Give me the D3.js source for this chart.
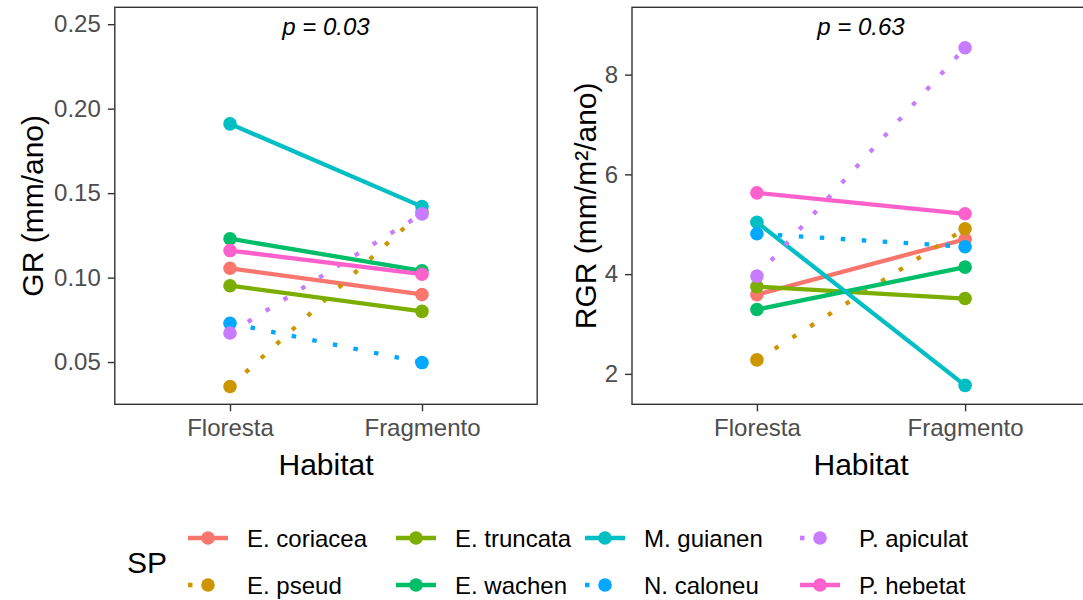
<!DOCTYPE html>
<html>
<head>
<meta charset="utf-8">
<script src="https://cdn.jsdelivr.net/npm/d3@7"></script>
<style>
  body { margin: 0; background: #fff; }
  svg { display: block; font-family: 'Liberation Sans', Arial, sans-serif; }
</style>
</head>
<body>
<div class="chart"></div>
<script>
// especies (ordem do fator SP)
const species = [
  'E. coriacea',
  'E. pseud',
  'E. truncata',
  'E. wachen',
  'M. guianen',
  'N. caloneu',
  'P. apiculat',
  'P. hebetat'
]
const habitats = ['Floresta', 'Fragmento']

// GR (mm/ano)
const grFloresta = [0.1055, 0.0355, 0.0952, 0.123, 0.191, 0.073, 0.0672, 0.116]
const grFragmento = [0.09, 0.139, 0.08, 0.104, 0.142, 0.0497, 0.1377, 0.102]

// RGR (mm/m2/ano)
const rgrFloresta = [3.59, 2.28, 3.75, 3.29, 5.04, 4.81, 3.96, 5.63]
const rgrFragmento = [4.7, 4.91, 3.51, 4.14, 1.77, 4.55, 8.54, 5.21]

const grTicks = [0.05, 0.1, 0.15, 0.2, 0.25]
const rgrTicks = [2, 4, 6, 8]
const pLabels = ['p = 0.03', 'p = 0.63']

const dotted = ['E. pseud', 'N. caloneu', 'P. apiculat']

;(function init() {
  const width = 1083
  const height = 600
  const top = 7.3
  const bottom = 404.3
  const lineWidth = 4.3
  const radius = 6.8
  const font = "'Liberation Sans', Arial, sans-serif"

  const color = d3
    .scaleOrdinal()
    .domain(species)
    .range(['#F8766D', '#CD9600', '#7CAE00', '#00BE67', '#00BFC4', '#00A9FF', '#C77CFF', '#FF61CC'])

  const svg = d3
    .select('.chart')
    .append('svg')
    .attr('width', width)
    .attr('height', height)

  const panels = [
    {
      left: 114.8,
      right: 537.2,
      domain: [0.025, 0.26],
      ticks: grTicks,
      format: d3.format('.2f'),
      a: grFloresta,
      b: grFragmento,
      title: 'GR (mm/ano)',
      titleX: 43,
      p: pLabels[0]
    },
    {
      left: 632,
      right: 1090,
      domain: [1.39, 9.35],
      ticks: rgrTicks,
      format: d3.format('d'),
      a: rgrFloresta,
      b: rgrFragmento,
      title: 'RGR (mm/m²/ano)',
      titleX: 596,
      p: pLabels[1]
    }
  ]

  for (const panel of panels) {
    const xScale = d3
      .scalePoint()
      .domain(habitats)
      .range([panel.left, panel.right])
      .padding(0.6)

    const yScale = d3.scaleLinear().domain(panel.domain).range([bottom, top])

    const g = svg.append('g')

    g.append('rect')
      .attr('x', panel.left)
      .attr('y', top)
      .attr('width', panel.right - panel.left)
      .attr('height', bottom - top)
      .attr('fill', 'none')
      .attr('stroke', '#333333')
      .attr('stroke-width', 1.4)

    const yAxis = g
      .append('g')
      .attr('transform', 'translate(' + panel.left + ',0)')
      .call(
        d3
          .axisLeft(yScale)
          .tickValues(panel.ticks)
          .tickFormat(panel.format)
          .tickSize(7)
          .tickPadding(7)
      )
    yAxis.select('.domain').remove()
    yAxis.selectAll('line').attr('stroke', '#333333').attr('stroke-width', 1.4)
    yAxis
      .selectAll('text')
      .attr('fill', '#4D4D4D')
      .style('font-size', '24px')
      .style('font-family', font)

    const xAxis = g
      .append('g')
      .attr('transform', 'translate(0,' + bottom + ')')
      .call(d3.axisBottom(xScale).tickSize(7).tickPadding(8))
    xAxis.select('.domain').remove()
    xAxis.selectAll('line').attr('stroke', '#333333').attr('stroke-width', 1.4)
    xAxis
      .selectAll('text')
      .attr('fill', '#4D4D4D')
      .style('font-size', '24px')
      .style('font-family', font)

    const cx = (panel.left + panel.right) / 2

    g.append('text')
      .attr('x', cx)
      .attr('y', 475)
      .attr('text-anchor', 'middle')
      .style('font-size', '30px')
      .text('Habitat')

    g.append('text')
      .attr('transform', 'translate(' + panel.titleX + ',' + (top + bottom) / 2 + ') rotate(-90)')
      .attr('text-anchor', 'middle')
      .style('font-size', '30px')
      .text(panel.title)

    g.append('text')
      .attr('x', cx)
      .attr('y', 35)
      .attr('text-anchor', 'middle')
      .style('font-size', '24px')
      .style('font-style', 'italic')
      .text(panel.p)

    const rows = species.map((sp, i) => ({
      sp: sp,
      values: [
        { habitat: habitats[0], v: panel.a[i] },
        { habitat: habitats[1], v: panel.b[i] }
      ]
    }))

    const line = d3
      .line()
      .x((d) => xScale(d.habitat))
      .y((d) => yScale(d.v))

    g.selectAll('path.serie')
      .data(rows)
      .enter()
      .append('path')
      .attr('class', 'serie')
      .attr('d', (d) => line(d.values))
      .attr('fill', 'none')
      .attr('stroke', (d) => color(d.sp))
      .attr('stroke-width', lineWidth)
      .attr('stroke-dasharray', (d) => (dotted.includes(d.sp) ? '4.5 16.5' : null))

    rows.forEach((row) => {
      g.selectAll(null)
        .data(row.values)
        .enter()
        .append('circle')
        .attr('cx', (d) => xScale(d.habitat))
        .attr('cy', (d) => yScale(d.v))
        .attr('r', radius)
        .attr('fill', color(row.sp))
    })
  }

  // legenda
  const legend = svg.append('g')

  legend
    .append('text')
    .attr('x', 127)
    .attr('y', 573)
    .style('font-size', '30px')
    .text('SP')

  const colX = [188, 396, 585, 800]
  const rowY = [538, 585]

  species.forEach((sp, i) => {
    const x = colX[Math.floor(i / 2)]
    const y = rowY[i % 2]

    legend
      .append('line')
      .attr('x1', x)
      .attr('x2', x + 40)
      .attr('y1', y)
      .attr('y2', y)
      .attr('stroke', color(sp))
      .attr('stroke-width', lineWidth)
      .attr('stroke-dasharray', dotted.includes(sp) ? '4.5 16.5' : null)

    legend
      .append('circle')
      .attr('cx', x + 20)
      .attr('cy', y)
      .attr('r', radius)
      .attr('fill', color(sp))

    legend
      .append('text')
      .attr('x', x + 59)
      .attr('y', y + 8.6)
      .style('font-size', '24px')
      .text(sp)
  })
})()
</script>
</body>
</html>
